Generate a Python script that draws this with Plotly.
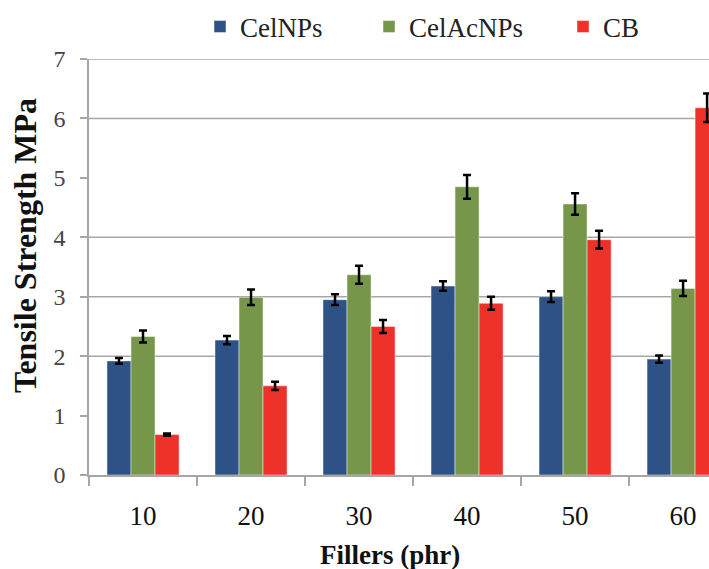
import plotly.graph_objects as go

# Filler loading (phr) on the category axis
fillers = ["10", "20", "30", "40", "50", "60"]

# Tensile strength (MPa) and standard deviations for each filler type
celnps = [1.92, 2.27, 2.95, 3.18, 3.00, 1.95]
celnps_err = [0.05, 0.07, 0.09, 0.08, 0.09, 0.06]

celacnps = [2.33, 2.99, 3.37, 4.85, 4.56, 3.14]
celacnps_err = [0.10, 0.13, 0.15, 0.20, 0.18, 0.13]

cb = [0.68, 1.50, 2.50, 2.89, 3.96, 6.18]
cb_err = [0.02, 0.07, 0.11, 0.11, 0.15, 0.24]

series_names = ["CelNPs", "CelAcNPs", "CB"]
series_colors = ["#2E5186", "#76974A", "#EE3129"]

# Value-axis ticks and the gridline levels drawn across the plot
y_ticks = [0, 1, 2, 3, 4, 5, 6, 7]
grid_levels = [2, 3, 4, 6, 7]

W, H = 709, 569
L, R, T, B = 89, 0, 59, 94
PW, PH = W - L - R, H - T - B
FONT = "Liberation Serif, serif"

fig = go.Figure()
values = [celnps, celacnps, cb]
errors = [celnps_err, celacnps_err, cb_err]
legend_ids = ["legend", "legend2", "legend3"]
for name, vals, errs, col, lg in zip(series_names, values, errors, series_colors, legend_ids):
    fig.add_trace(go.Bar(
        x=fillers, y=vals, name=name, showlegend=True,
        marker=dict(color=col, line=dict(color="rgba(255,255,255,0.45)", width=1)),
        error_y=dict(type="data", array=errs, color="black", thickness=2.5, width=4),
        legend=lg,
    ))

for g in grid_levels:
    fig.add_shape(type="line", xref="paper", yref="y", x0=0, x1=1, y0=g, y1=g,
                  line=dict(color="#A6A6A6", width=1.5), layer="below")

legend_font = dict(family=FONT, size=27, color="#222")
legend_x_px = [200, 369, 563]
legend_common = dict(orientation="h", xref="container", yref="container",
                     yanchor="middle", xanchor="left", y=1 - 27 / H,
                     font=legend_font, bgcolor="rgba(0,0,0,0)", itemwidth=30)

fig.update_layout(
    template="none",
    showlegend=True,
    legend=dict(x=legend_x_px[0] / W, **legend_common),
    legend2=dict(x=legend_x_px[1] / W, **legend_common),
    legend3=dict(x=legend_x_px[2] / W, **legend_common),
    width=W, height=H,
    margin=dict(l=L, r=R, t=T, b=B, pad=0),
    paper_bgcolor="white", plot_bgcolor="white",
    barmode="group", bargap=0.333, bargroupgap=0,
    font=dict(family=FONT, color="#222"),
    xaxis=dict(
        type="category", range=[-0.5, 5.24],
        showline=True, linecolor="#A6A6A6", linewidth=1.5,
        ticks="outside", tickson="boundaries", ticklen=9, tickcolor="#A6A6A6", tickwidth=1.5,
        tickfont=dict(family=FONT, size=27, color="#111"),
        ticklabelstandoff=16, showgrid=False, zeroline=False,
    ),
    yaxis=dict(
        range=[0, 7], tickvals=y_ticks,
        showline=True, linecolor="#A6A6A6", linewidth=1.5,
        ticks="outside", ticklen=7, tickcolor="#A6A6A6", tickwidth=1.5,
        tickfont=dict(family=FONT, size=24, color="#444"),
        ticklabelstandoff=10, showgrid=False, zeroline=False,
    ),
    annotations=[
        dict(text="<b>Fillers (phr)</b>", xref="paper", yref="paper",
             x=(390 - L) / PW, y=(475 - 555) / PH,
             xanchor="center", yanchor="middle", showarrow=False,
             font=dict(family=FONT, size=27, color="#111")),
        dict(text="<b>Tensile Strength MPa</b>", xref="paper", yref="paper",
             x=(25 - L) / PW, y=(475 - 246) / PH,
             xanchor="center", yanchor="middle", showarrow=False, textangle=-90,
             font=dict(family=FONT, size=32, color="#111")),
    ],
)

fig.write_html("out.html")
